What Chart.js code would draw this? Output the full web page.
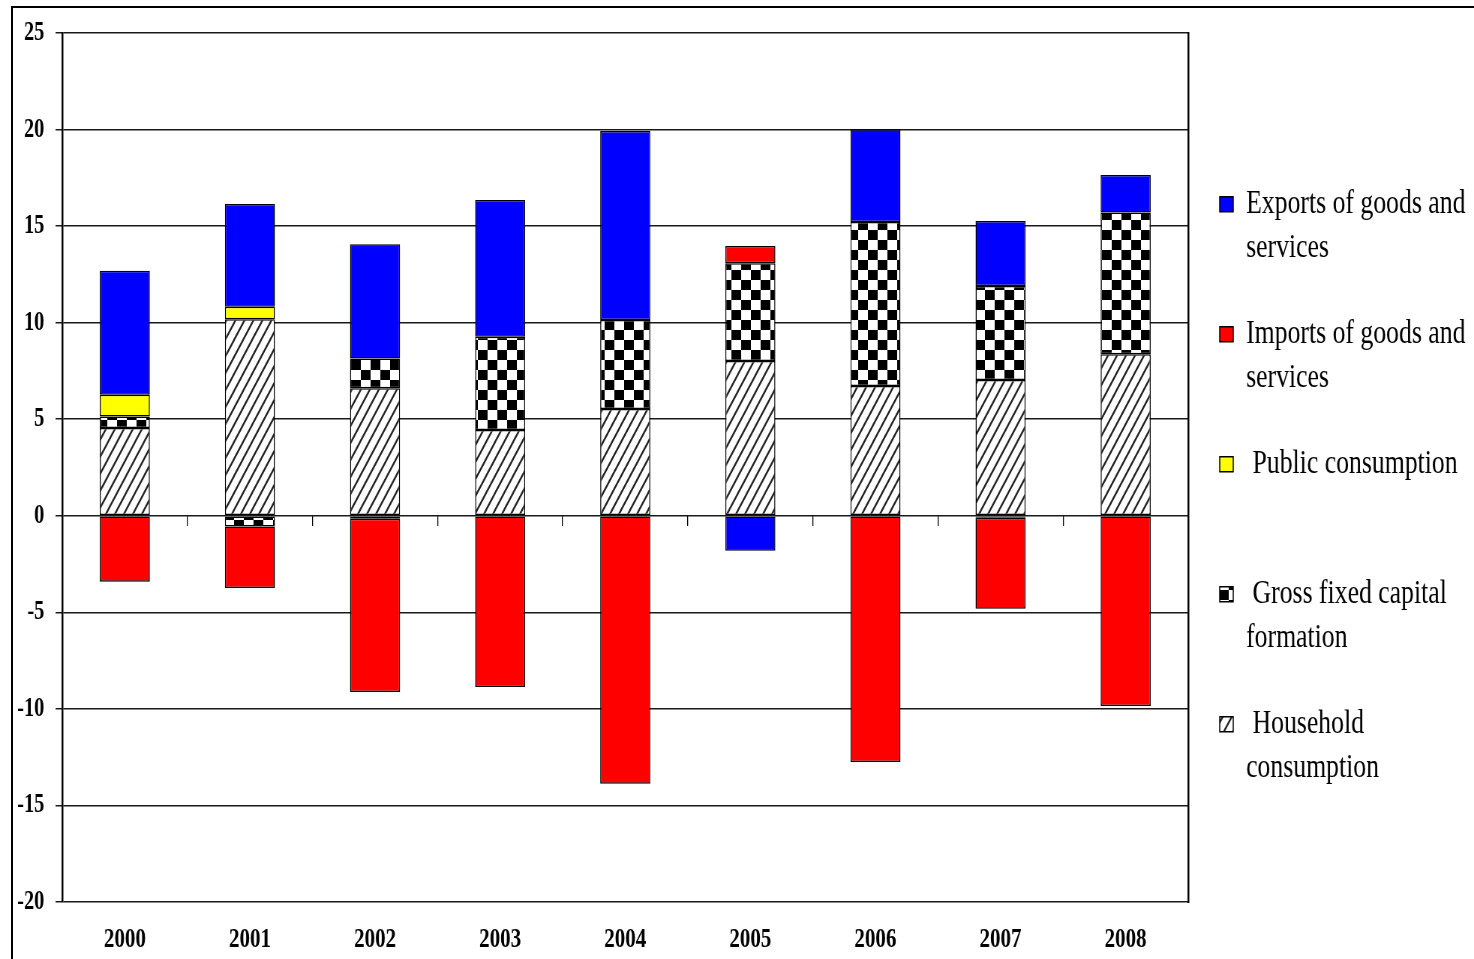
<!DOCTYPE html>
<html><head><meta charset="utf-8">
<script src="https://cdn.jsdelivr.net/npm/chart.js@4"></script>
<style>
html,body{margin:0;padding:0;background:#fff;overflow:hidden;width:1474px;height:959px;}
#frame{position:absolute;left:11px;top:6px;width:1700px;height:1100px;border-left:2px solid #000;border-top:2px solid #000;}
#wrap{position:absolute;left:0;top:0;width:1965px;height:959px;transform:scaleX(0.75013);transform-origin:0 0;}
</style></head><body>
<div id="frame"></div>
<div id="wrap"><canvas id="c"></canvas></div>
<script>
// ---- data (percentage-point contributions) ----
const years = ["2000","2001","2002","2003","2004","2005","2006","2007","2008"];
const household = [4.54, 10.18, 6.60, 4.44, 5.53, 8.02, 6.72, 7.03, 8.36];
const gfcf      = [0.60, -0.55, 1.55, 4.83, 4.61, 5.06, 8.49, 4.87, 7.34];
const publicC   = [1.13, 0.65, -0.15, null, null, null, null, -0.10, null];
const imports   = [-3.42, -3.19, -8.97, -8.87, -13.88, 0.89, -12.75, -4.72, -9.85];
const exportsG  = [6.42, 5.32, 5.91, 7.08, 9.79, -1.81, 4.80, 3.37, 1.95];
const yTicks = {min: -20, max: 25, step: 5};
const legendText = {
  household: [" Household", "consumption"],
  gfcf: [" Gross fixed capital", "formation"],
  publicC: [" Public consumption", ""],
  imports: ["Imports of goods and", "services"],
  exportsG: ["Exports of goods and", "services"]
};

// ---- patterns ----
function checkerPattern(){
  const c = document.createElement('canvas'); c.width = 26; c.height = 20;
  const g = c.getContext('2d');
  g.fillStyle = '#fff'; g.fillRect(0,0,26,20);
  g.fillStyle = '#000'; g.fillRect(0,0,13,10); g.fillRect(13,10,13,10);
  return g.createPattern(c, 'repeat');
}
function hatchPattern(){
  const w = 12, h = 17;
  const c = document.createElement('canvas'); c.width = w; c.height = h;
  const g = c.getContext('2d');
  g.fillStyle = '#fff'; g.fillRect(0,0,w,h);
  g.strokeStyle = '#222'; g.lineWidth = 2.2;
  for (const dx of [-w, 0, w]) {
    g.beginPath(); g.moveTo(dx - w, 2*h); g.lineTo(dx + 2*w, -h); g.stroke();
  }
  return g.createPattern(c, 'repeat');
}
const checker = checkerPattern();
const hatch = hatchPattern();

const FONT = '"Liberation Serif", "Times New Roman", serif';
const common = {borderColor:'#000', borderWidth:1.5, borderSkipped:false, xAxisID:'x', yAxisID:'y'};

new Chart(document.getElementById('c'), {
  type: 'bar',
  data: {
    labels: years,
    datasets: [
      Object.assign({label:'household', data: household, backgroundColor: hatch}, common),
      Object.assign({label:'gfcf', data: gfcf, backgroundColor: checker}, common),
      Object.assign({label:'publicC', data: publicC, backgroundColor: '#FFFF00'}, common),
      Object.assign({label:'imports', data: imports, backgroundColor: '#FF0000'}, common),
      Object.assign({label:'exportsG', data: exportsG, backgroundColor: '#0000FF'}, common)
    ]
  },
  options: {
    responsive: true,
    maintainAspectRatio: false,
    devicePixelRatio: 1,
    animation: false,
    barPercentage: 0.4,
    categoryPercentage: 1.0,
    layout: {padding: {left: 0, right: 2, top: 33, bottom: 0}},
    plugins: {
      tooltip: {enabled: false},
      legend: {
        position: 'right',
        align: 'start',
        reverse: true,
        maxWidth: 379,
        title: {display: true, text: '', font: {size: 10, lineHeight: '10px'}, padding: {top: 102, bottom: 0}},
        labels: {
          color: '#000',
          font: {family: FONT, size: 34.3, lineHeight: '44px'},
          boxWidth: 18,
          boxHeight: 15,
          padding: 42,
          generateLabels: (chart) => {
            const items = Chart.defaults.plugins.legend.labels.generateLabels(chart);
            items.forEach(it => { it.text = legendText[chart.data.datasets[it.datasetIndex].label]; });
            return items;
          }
        }
      }
    },
    scales: {
      x: {
        axis: 'x', position: 'bottom', stacked: true, offset: true,
        grid: {display: false, offset: true},
        border: {display: false},
        ticks: {color: '#000', font: {family: FONT, size: 28, weight: 'bold'}, padding: 13, maxRotation: 0},
        afterFit: (s) => { s.height = 57; }
      },
      x0: {
        axis: 'x', type: 'category', labels: years, position: {y: 0}, offset: true,
        grid: {offset: true, drawOnChartArea: false, drawTicks: true, tickLength: 10, color: '#000', lineWidth: 1.3},
        border: {display: false},
        ticks: {display: false}
      },
      y: {
        axis: 'y', position: 'left', stacked: true,
        min: yTicks.min, max: yTicks.max,
        ticks: {stepSize: yTicks.step, color: '#000', font: {family: FONT, size: 27, weight: 'bold'}, padding: 15},
        grid: {color: '#1a1a1a', lineWidth: 1.5, drawTicks: true, tickLength: 9},
        border: {display: true, color: '#000', width: 2.5},
        afterFit: (s) => { s.width = 83; }
      },
      yR: {
        axis: 'y', type: 'linear', position: 'right',
        grid: {display: false},
        ticks: {display: false},
        border: {display: true, color: '#000', width: 2.5},
        afterFit: (s) => { s.width = 0; }
      }
    }
  }
});
</script>
</body></html>
